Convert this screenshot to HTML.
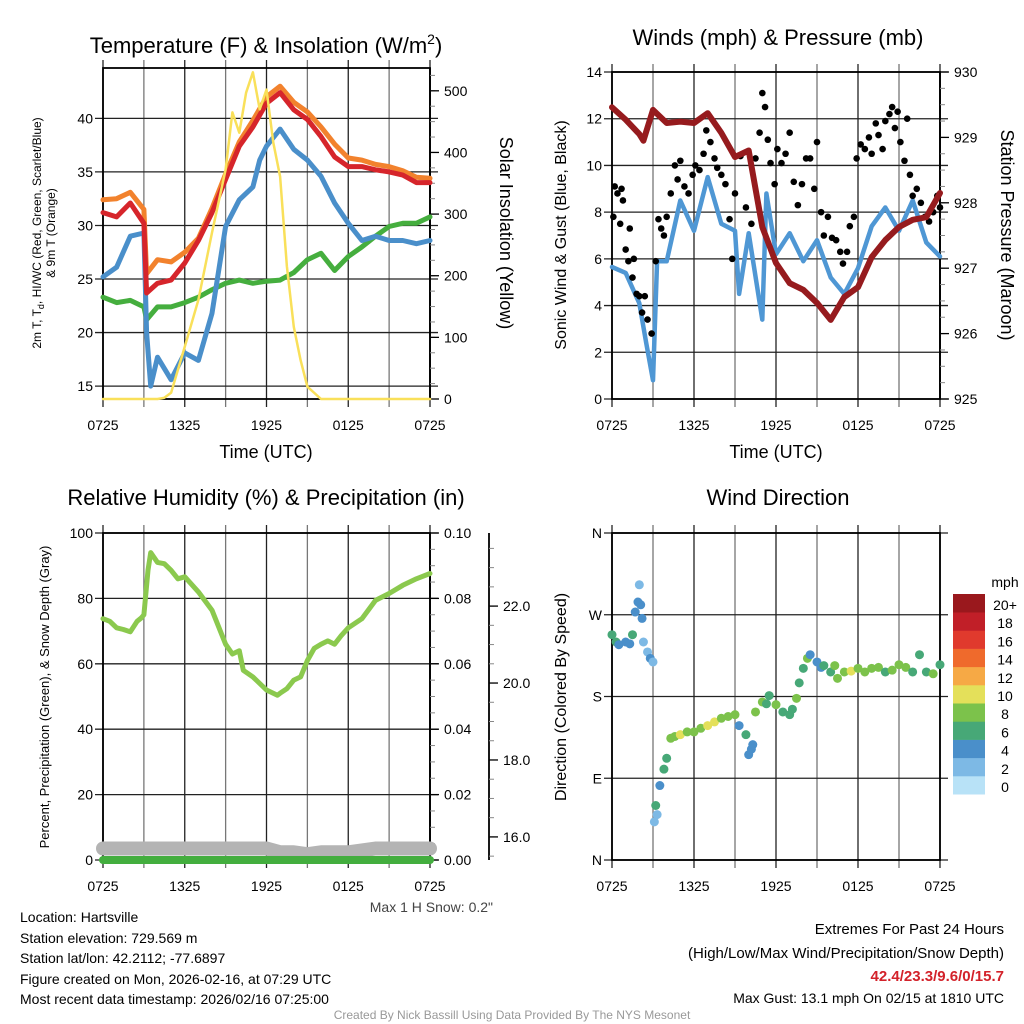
<!DOCTYPE html>
<html><head><meta charset="utf-8"><style>
body{margin:0;background:#fff;}
svg{display:block;font-family:"Liberation Sans",sans-serif;}
</style></head><body>
<svg id="c" width="1024" height="1024" viewBox="0 0 1024 1024" xmlns="http://www.w3.org/2000/svg">
<rect width="1024" height="1024" fill="#fff"/>
<text x="266" y="53" font-size="22" text-anchor="middle">Temperature (F) &amp; Insolation (W/m<tspan font-size="14" dy="-9">2</tspan><tspan dy="9">)</tspan></text>
<text x="778" y="45" font-size="22" text-anchor="middle">Winds (mph) &amp; Pressure (mb)</text>
<text x="266" y="505" font-size="22" text-anchor="middle">Relative Humidity (%) &amp; Precipitation (in)</text>
<text x="778" y="505" font-size="22" text-anchor="middle">Wind Direction</text>
<text x="266" y="458" font-size="18" text-anchor="middle">Time (UTC)</text>
<text x="776" y="458" font-size="18" text-anchor="middle">Time (UTC)</text>
<text transform="translate(41,233) rotate(-90)" font-size="12" text-anchor="middle">2m T, T<tspan font-size="9" dy="3">d</tspan><tspan dy="-3">, HI/WC (Red, Green, Scarlet/Blue)</tspan></text>
<text transform="translate(55,233) rotate(-90)" font-size="12" text-anchor="middle">&amp; 9m T (Orange)</text>
<text transform="translate(500,233) rotate(90)" font-size="18" text-anchor="middle">Solar Insolation (Yellow)</text>
<text transform="translate(566,235) rotate(-90)" font-size="16" text-anchor="middle">Sonic Wind &amp; Gust (Blue, Black)</text>
<text transform="translate(1001,235) rotate(90)" font-size="18" text-anchor="middle">Station Pressure (Maroon)</text>
<text transform="translate(49,697) rotate(-90)" font-size="13" text-anchor="middle">Percent, Precipitation (Green), &amp; Snow Depth (Gray)</text>
<text transform="translate(566,697) rotate(-90)" font-size="16" text-anchor="middle">Direction (Colored By Speed)</text>
<text x="493" y="912" font-size="14" fill="#444" text-anchor="end">Max 1 H Snow: 0.2"</text>
<g font-size="14">
<text x="20" y="922">Location: Hartsville</text>
<text x="20" y="943">Station elevation: 729.569 m</text>
<text x="20" y="963">Station lat/lon: 42.2112; -77.6897</text>
<text x="20" y="984">Figure created on Mon, 2026-02-16, at 07:29 UTC</text>
<text x="20" y="1004">Most recent data timestamp: 2026/02/16 07:25:00</text>
</g>
<g text-anchor="end">
<text x="1004" y="934" font-size="15">Extremes For Past 24 Hours</text>
<text x="1004" y="958" font-size="15">(High/Low/Max Wind/Precipitation/Snow Depth)</text>
<text x="1004" y="981" font-size="15" font-weight="bold" fill="#d3222a">42.4/23.3/9.6/0/15.7</text>
<text x="1004" y="1003" font-size="14">Max Gust: 13.1 mph On 02/15 at 1810 UTC</text>
</g>
<text x="512" y="1019" font-size="12" fill="#999" text-anchor="middle">Created By Nick Bassill Using Data Provided By The NYS Mesonet</text>
<g id="marks"></g>
</svg>
<script>
const hours = [0,1,2,3,3.2,4,5,6,7,8,9,10,11,12,13,14,15,16,17,18,19,20,21,22,23,24];
const tempRed = [31.2,30.8,32.1,30.2,23.7,24.6,24.9,26.5,28.6,31.2,34.3,37.4,39.2,41.4,42.4,40.8,39.9,38.3,36.4,35.5,35.5,35.2,35.0,34.7,34.0,34.0];
const temp9m = [32.4,32.5,33.1,31.5,25.5,26.8,26.6,27.5,28.8,31.6,34.8,37.8,39.8,42.0,43.0,41.5,40.6,39.2,37.6,36.3,36.1,35.7,35.5,35.1,34.5,34.4];
const dewGreen = [23.3,22.8,23.0,22.4,21.2,22.4,22.4,22.8,23.3,24.0,24.6,24.9,24.6,24.8,24.9,25.6,26.8,27.4,25.8,27.1,28.0,29.0,29.9,30.2,30.2,30.8];
const wcHours = [0,1,2,3,3.2,3.5,4,5,6,7,8,9,10,11,11.5,12,13,14,15,16,17,18,19,20,21,22,23,24];
const wcBlue = [25.2,26.1,29.0,29.3,20.0,15.0,17.7,15.6,18.1,17.4,21.8,29.9,32.4,33.6,36.1,37.4,39.0,37.1,36.1,34.6,32.1,30.2,28.6,29.0,28.6,28.6,28.3,28.6];
const solarHours = [0,4,4.5,5,6,7,8,9,9.5,10,10.5,11,11.5,12,12.5,13,13.5,14,14.5,15,16,24];
const solar = [0,0,2,10,85,161,270,372,465,432,497,530,470,502,416,361,215,117,63,20,0,0];
const windHours = [0,1,2,2.5,3,3.3,4,5,6,7,8,9,9.3,10,11,11.3,12,13,14,15,16,17,18,19,20,21,22,23,24];
const windSpeed = [5.65,5.4,4.1,2.4,0.8,5.9,5.9,8.5,7.2,9.5,7.5,7.2,4.5,7.1,3.4,8.8,6.2,7.1,5.9,6.8,5.2,4.5,5.6,7.4,8.2,7.2,8.5,6.7,6.1];
const presHours = [0,1,2,2.3,3,4,5,6,7,8,9,10,11,12,13,14,15,16,17,18,19,20,21,22,23,24];
const pressure = [929.46,929.27,929.05,928.95,929.42,929.22,929.24,929.22,929.37,929.07,928.7,928.8,927.63,927.08,926.77,926.67,926.47,926.21,926.56,926.71,927.17,927.43,927.63,927.74,927.78,928.15];
const gustHours = [0.1,0.2,0.4,0.6,0.7,0.8,1.0,1.2,1.3,1.5,1.6,1.8,2.0,2.2,2.4,2.6,2.9,3.2,3.4,3.6,3.8,4.0,4.3,4.6,4.8,5.0,5.3,5.6,5.9,6.1,6.4,6.7,6.9,7.2,7.5,7.7,8.0,8.3,8.6,8.8,9.0,9.4,9.8,10.2,10.5,10.8,11.0,11.2,11.4,11.6,11.9,12.1,12.4,12.7,13.0,13.3,13.6,13.9,14.2,14.5,14.8,15.0,15.3,15.5,15.8,16.1,16.4,16.7,16.9,17.2,17.4,17.7,17.9,18.2,18.5,18.8,19.0,19.3,19.5,19.8,20.0,20.3,20.5,20.7,20.9,21.1,21.4,21.6,21.8,22.0,22.3,22.6,22.9,23.2,23.5,23.8,24.0];
const gust = [7.8,9.1,8.8,7.5,9.0,8.5,6.4,5.9,7.3,5.2,6.0,4.5,4.4,3.7,4.4,3.4,2.8,5.9,7.7,7.3,7.0,7.8,8.8,10.0,9.4,10.2,9.1,8.8,9.6,10.0,9.8,10.5,11.5,11.0,10.3,9.9,9.6,9.2,7.7,6.0,8.8,10.4,8.2,7.5,10.3,11.4,13.1,12.5,11.1,10.1,9.2,10.7,10.1,10.5,11.4,9.3,8.3,9.2,10.3,10.3,9.0,11.0,8.0,7.0,7.8,6.9,6.8,6.3,5.8,6.3,7.4,7.8,10.3,10.9,10.7,11.2,10.5,11.8,11.3,10.7,11.9,12.2,12.5,11.6,12.3,11.0,10.2,12.0,9.6,8.7,9.0,8.4,7.8,7.6,8.0,8.7,8.2];
const rhHours = [0,0.5,1,1.5,2,2.5,2.8,3,3.3,3.5,4,4.5,5,5.5,6,7,8,9,9.5,10,10.3,11,12,12.8,13,13.5,14,14.5,15,15.5,16,16.5,17,17.5,18,19,20,21,22,23,24];
const rh = [73.8,73,71,70.5,69.8,73,74,75,88.6,94,91,90.6,88.6,86,86.6,82,76.4,66,63,64,58,56,52,50.4,51,52.4,55,56,61,64.7,66,67,66,68.7,71,73.8,79.4,81.5,84,86,87.6];
const snowHours = [0,12,13,14,15,16,17,18,19,20,21,24];
const snowDepth = [15.7,15.7,15.6,15.6,15.55,15.6,15.6,15.6,15.65,15.7,15.7,15.7];
const precipHours = [0,24];
const precip = [0,0];
const dirHours = [0,0.3,0.5,1,1.3,1.5,1.7,1.9,2,2.1,2.2,2.3,2.6,2.8,3,3.1,3.2,3.3,3.5,3.8,4,4.3,4.6,5,5.5,6,6.5,7,7.5,8,8.5,9,9.3,9.8,10,10.2,10.3,10.5,11,11.3,11.5,12,12.5,13,13.2,13.5,13.7,14,14.3,14.5,15,15.3,15.5,16,16.3,16.5,17,17.5,18,18.5,19,19.5,20,20.5,21,21.5,22,22.5,23,23.5,24];
const dirDeg = [248,240,237,240,238,248,273,284,303,281,266,240,229,222,218,42,60,50,82,100,112,134,136,138,141,141,145,148,152,156,158,160,148,138,116,122,127,163,174,172,181,171,163,160,166,178,195,211,222,226,218,212,214,207,214,200,207,208,211,207,211,212,207,209,215,212,207,226,207,205,215];
const dirSpd = [6,5,4,4,4,5,4,4,2,4,4,2,2,3,2,2,5,2,4,5,6,7,8,9,8,7,8,9,10,8,8,7,4,6,4,3,4,8,7,5,6,8,5,6,6,7,6,6,7,4,3,4,6,6,8,7,7,9,8,8,7,8,6,7,8,7,6,6,6,7,6];
const speedColors = ['#b8e2f7','#7db9e5','#4a8fca','#47a877','#7cc24b','#e4e05a','#f6a945','#ef6a2c','#e03a2d','#c11f28','#9a181d'];
const speedLabels = ['0','2','4','6','8','10','12','14','16','18','20+'];
const xTickLabels = ['0725','1325','1925','0125','0725'];

const NS='http://www.w3.org/2000/svg';
const root=document.getElementById('marks');
function mk(tag,attrs){const e=document.createElementNS(NS,tag);for(const k in attrs)e.setAttribute(k,attrs[k]);root.appendChild(e);return e;}
function scale(d0,d1,r0,r1){return v=>r0+(v-d0)/(d1-d0)*(r1-r0);}
function pathD(xs,ys,fx,fy){return xs.map((h,i)=>(i?'L':'M')+fx(h).toFixed(1)+','+fy(ys[i]).toFixed(1)).join('');}

function frame(p,name,leftTicks,leftLabels,fyL){
  for(let h=0;h<=24;h+=3){
    const l=mk('line',{x1:p.fx(h),x2:p.fx(h),y1:p.y0-8,y2:p.y1+8,stroke:(h%6==0?'#222':'#777'),'stroke-width':1.3});
    
    
  }
  leftTicks.forEach((v,i)=>{
    const g=mk('line',{x1:p.x0-8,x2:p.x1+8,y1:fyL(v),y2:fyL(v),stroke:'#222','stroke-width':1.3});
    
    
    const t=mk('text',{x:p.x0-10,y:fyL(v)+5,'font-size':14,'text-anchor':'end'});
    t.textContent=leftLabels[i];
    
    
  });
  xTickLabels.forEach((s,i)=>{
    const t=mk('text',{x:p.fx(i*6),y:p.y1+31,'font-size':14,'text-anchor':'middle'});
    t.textContent=s;
    
    
  });
  const b=mk('rect',{x:p.x0,y:p.y0,width:p.x1-p.x0,height:p.y1-p.y0,fill:'none',stroke:'#000','stroke-width':1.8});
  
  
}
function rightAxis(p,name,vals,labels,fy,x,minor){
  const a=mk('line',{x1:x,x2:x,y1:p.y0,y2:p.y1,stroke:'#000','stroke-width':1.8});
  
  
  minor.forEach(v=>{const m=mk('line',{x1:x,x2:x+5,y1:fy(v),y2:fy(v),stroke:'#888','stroke-width':1});
    
    });
  vals.forEach((v,i)=>{
    const k=mk('line',{x1:x,x2:x+9,y1:fy(v),y2:fy(v),stroke:'#000','stroke-width':1.3});
    
    
    const t=mk('text',{x:x+14,y:fy(v)+5,'font-size':14});
    t.textContent=labels[i];
    
    
  });
}
function line(xs,ys,fx,fy,color,w,name){
  const e=mk('path',{d:pathD(xs,ys,fx,fy),fill:'none',stroke:color,'stroke-width':w,'stroke-linejoin':'round','stroke-linecap':'round'});
  
  
}
function range(a,b,s){const r=[];for(let v=a;v<=b+1e-9;v+=s)r.push(+v.toFixed(4));return r;}

// Panel 1
const p1={x0:103,x1:430,y0:68,y1:399};p1.fx=scale(0,24,p1.x0,p1.x1);
const fT=scale(13.8,44.7,399,68), fS=scale(0,537,399,68);
frame(p1,'temp',[15,20,25,30,35,40],['15','20','25','30','35','40'],fT);
rightAxis(p1,'solar',[0,100,200,300,400,500],['0','100','200','300','400','500'],fS,430,range(0,525,25));
line(hours,dewGreen,p1.fx,fT,'#45ae3e',5,'dewpoint-line');
line(wcHours,wcBlue,p1.fx,fT,'#4a8fca',5,'windchill-line');
line(hours,temp9m,p1.fx,fT,'#f2822d',5,'temp-9m-line');
line(hours,tempRed,p1.fx,fT,'#d6252b',5,'temp-2m-line');
line(solarHours,solar,p1.fx,fS,'#f9e05a',2.5,'solar-line');

// Panel 2
const p2={x0:612,x1:940,y0:72,y1:399};p2.fx=scale(0,24,p2.x0,p2.x1);
const fW=scale(0,14,399,72), fP=scale(925,930,399,72);
frame(p2,'wind',[0,2,4,6,8,10,12,14],['0','2','4','6','8','10','12','14'],fW);
rightAxis(p2,'pressure',[925,926,927,928,929,930],['925','926','927','928','929','930'],fP,940,range(925,930,0.25));
line(windHours,windSpeed,p2.fx,fW,'#4f97d4',4.5,'wind-speed-line');
gustHours.forEach((h,i)=>{
  const c=mk('circle',{cx:p2.fx(h),cy:fW(gust[i]),r:3.3,fill:'#000'});
  
  
});
line(presHours,pressure,p2.fx,fP,'#961b1e',6,'pressure-line');

// Panel 3
const p3={x0:103,x1:430,y0:533,y1:860};p3.fx=scale(0,24,p3.x0,p3.x1);
const fR=scale(0,100,860,533), fPr=scale(0,0.1,860,533), fSn=scale(15.4,23.9,860,533);
frame(p3,'rh',[0,20,40,60,80,100],['0','20','40','60','80','100'],fR);
rightAxis(p3,'precip',[0,0.02,0.04,0.06,0.08,0.1],['0.00','0.02','0.04','0.06','0.08','0.10'],fPr,430,range(0,0.1,0.005));
rightAxis(p3,'snow',[16,18,20,22],['16.0','18.0','20.0','22.0'],fSn,489,range(15.5,23.5,0.5));
line(snowHours,snowDepth,p3.fx,fSn,'#b4b4b4',14,'snow-depth-line');
line(precipHours,precip,p3.fx,fPr,'#43ae3e',8,'precip-line');
line(rhHours,rh,p3.fx,fR,'#8bc94e',5,'rh-line');

// Panel 4
const p4={x0:612,x1:940,y0:533,y1:860};p4.fx=scale(0,24,p4.x0,p4.x1);
const fD=scale(0,360,860,533);
frame(p4,'wdir',[0,90,180,270,360],['N','E','S','W','N'],fD);
dirHours.forEach((h,i)=>{
  const ci=Math.min(10,Math.round(dirSpd[i]/2));
  const c=mk('circle',{cx:p4.fx(h),cy:fD(dirDeg[i]),r:4.5,fill:speedColors[ci]});
  
  
});
// colorbar
const cbTop=594,cbH=18.2;
speedColors.forEach((col,i)=>{
  const y=cbTop+(10-i)*cbH;
  const r=mk('rect',{x:953,y:y,width:32,height:cbH+0.3,fill:col});
  
  
  const t=mk('text',{x:1005,y:y+16,'font-size':14,'text-anchor':'middle'});
  t.textContent=speedLabels[i];
  
  
});
const u=mk('text',{x:1005,y:587,'font-size':14,'text-anchor':'middle'});
u.textContent='mph';


</script>
</body></html>
